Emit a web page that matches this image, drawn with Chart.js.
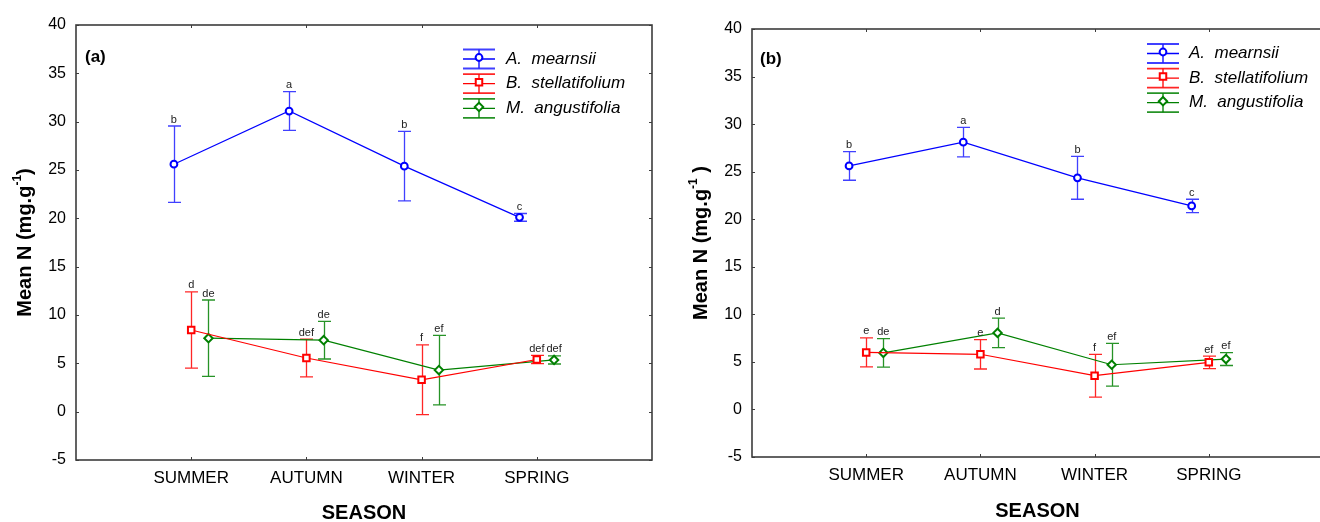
<!DOCTYPE html>
<html>
<head>
<meta charset="utf-8">
<script src="https://cdn.jsdelivr.net/npm/chart.js@4.4.1/dist/chart.umd.min.js"></script>
<style>
  html, body { margin: 0; padding: 0; background: #fff; overflow: hidden; }
  #wrap { position: relative; width: 1320px; height: 522px; overflow: hidden; }
  #panelA { position: absolute; left: 0; top: 0; }
  #panelB { position: absolute; left: 660px; top: 0; }
</style>
</head>
<body>
<div id="wrap">
  <canvas id="panelA" width="660" height="522"></canvas>
  <canvas id="panelB" width="670" height="522"></canvas>
</div>
<script>
// categories and series names
const seasons = ['SUMMER', 'AUTUMN', 'WINTER', 'SPRING'];
const species = ['A. mearnsii', 'B. stellatifolium', 'M. angustifolia'];
const yMin = -5, yMax = 40, yStep = 5;

// panel (a): means, error bar half-widths, group letters
const meanA_mearnsii = [25.6, 31.1, 25.4, 20.1];
const meanA_stellat  = [8.45, 5.55, 3.3, 5.4];
const meanA_angust   = [7.6, 7.4, 4.3, 5.35];
const errA_mearnsii = [3.95, 2.0, 3.6, 0.4];
const errA_stellat  = [3.95, 1.95, 3.6, 0.43];
const errA_angust   = [3.95, 1.95, 3.6, 0.42];
const letA_mearnsii = ['b', 'a', 'b', 'c'];
const letA_stellat  = ['d', 'def', 'f', 'def'];
const letA_angust   = ['de', 'de', 'ef', 'def'];

// panel (b)
const meanB_mearnsii = [25.6, 28.1, 24.35, 21.4];
const meanB_stellat  = [6.0, 5.8, 3.55, 4.95];
const meanB_angust   = [5.95, 8.05, 4.7, 5.3];
const errB_mearnsii = [1.5, 1.55, 2.25, 0.7];
const errB_stellat  = [1.52, 1.55, 2.25, 0.65];
const errB_angust   = [1.5, 1.56, 2.25, 0.68];
const letB_mearnsii = ['b', 'a', 'b', 'c'];
const letB_stellat  = ['e', 'e', 'f', 'ef'];
const letB_angust   = ['de', 'd', 'ef', 'ef'];

const FONT = '"Liberation Sans", Arial, Helvetica, sans-serif';
Chart.defaults.font.family = FONT;
Chart.defaults.color = '#000';

// per-species look; markers are shifted sideways so bars don't overlap
const styles = [
  { color: '#0000ff', bar: 'rgba(30,30,255,0.85)', point: 'circle', radius: 3.4, offset: -0.15 },
  { color: '#ff0000', bar: 'rgba(255,0,0,0.85)',   point: 'rect',   radius: 4.6, offset: 0 },
  { color: '#008000', bar: 'rgba(0,128,0,0.85)',   point: 'rectRot', radius: 4.2, offset: 0.15 }
];

function drawMarker(ctx, style, x, y) {
  ctx.save();
  ctx.fillStyle = '#fff';
  ctx.strokeStyle = style.color;
  ctx.lineWidth = 2;
  ctx.beginPath();
  if (style.point === 'circle') {
    ctx.arc(x, y, style.radius, 0, Math.PI * 2);
  } else if (style.point === 'rect') {
    const s = style.radius * Math.SQRT1_2;
    ctx.rect(x - s, y - s, 2 * s, 2 * s);
  } else {
    const r = style.radius;
    ctx.moveTo(x, y - r); ctx.lineTo(x + r, y); ctx.lineTo(x, y + r); ctx.lineTo(x - r, y); ctx.closePath();
  }
  ctx.fill();
  ctx.stroke();
  ctx.restore();
}

function decorPlugin(cfg) {
  return {
    id: 'decor' + cfg.label,
    beforeDatasetsDraw(chart) {
      const ctx = chart.ctx, xs = chart.scales.x, ys = chart.scales.y;
      ctx.save();
      ctx.lineWidth = 1.3;
      cfg.means.forEach((means, s) => {
        ctx.strokeStyle = styles[s].bar;
        means.forEach((m, i) => {
          const x = Math.round(xs.getPixelForValue(i + 1 + styles[s].offset)) + 0.5;
          const yt = ys.getPixelForValue(m + cfg.errs[s][i]);
          const yb = ys.getPixelForValue(m - cfg.errs[s][i]);
          ctx.beginPath();
          ctx.moveTo(x, yt); ctx.lineTo(x, yb);
          ctx.moveTo(x - 6.5, yt); ctx.lineTo(x + 6.5, yt);
          ctx.moveTo(x - 6.5, yb); ctx.lineTo(x + 6.5, yb);
          ctx.stroke();
        });
      });
      ctx.restore();
    },
    afterDraw(chart) {
      const ctx = chart.ctx, xs = chart.scales.x, ys = chart.scales.y;
      const a = chart.chartArea;
      ctx.save();

      // frame with small inward ticks
      ctx.strokeStyle = '#3c3c3c';
      ctx.lineWidth = 1.6;
      ctx.strokeRect(a.left, a.top, a.right - a.left, a.bottom - a.top);
      ctx.lineWidth = 1;
      ctx.beginPath();
      ys.ticks.forEach(t => {
        const y = Math.round(ys.getPixelForValue(t.value)) + 0.5;
        ctx.moveTo(a.left, y); ctx.lineTo(a.left + 3, y);
        ctx.moveTo(a.right, y); ctx.lineTo(a.right - 3, y);
      });
      xs.ticks.forEach(t => {
        const x = Math.round(xs.getPixelForValue(t.value)) + 0.5;
        ctx.moveTo(x, a.top); ctx.lineTo(x, a.top + 3);
        ctx.moveTo(x, a.bottom); ctx.lineTo(x, a.bottom - 3);
      });
      ctx.stroke();

      // group letters above each error bar
      ctx.fillStyle = '#222';
      ctx.font = '11px ' + FONT;
      ctx.textAlign = 'center';
      ctx.textBaseline = 'bottom';
      cfg.letters.forEach((lets, s) => {
        lets.forEach((txt, i) => {
          const x = xs.getPixelForValue(i + 1 + styles[s].offset);
          const y = ys.getPixelForValue(cfg.means[s][i] + cfg.errs[s][i]);
          ctx.fillText(txt, x, y - 1);
        });
      });

      // panel tag
      ctx.fillStyle = '#000';
      ctx.font = 'bold 17px ' + FONT;
      ctx.textAlign = 'left';
      ctx.textBaseline = 'middle';
      ctx.fillText(cfg.tag, cfg.tagX, cfg.tagY);

      // legend: error-bar glyph + marker + italic name
      const L = cfg.legend;
      species.forEach((name, s) => {
        const st = styles[s];
        const yc = L.y + s * L.gap;
        ctx.strokeStyle = st.color;
        ctx.lineWidth = 1.3;
        ctx.beginPath();
        ctx.moveTo(L.x - 16, yc); ctx.lineTo(L.x + 16, yc);
        ctx.moveTo(L.x, yc - 9.5); ctx.lineTo(L.x, yc + 9.5);
        ctx.stroke();
        ctx.strokeStyle = st.bar;
        ctx.lineWidth = 1.8;
        ctx.beginPath();
        ctx.moveTo(L.x - 16, yc - 9.5); ctx.lineTo(L.x + 16, yc - 9.5);
        ctx.moveTo(L.x - 16, yc + 9.5); ctx.lineTo(L.x + 16, yc + 9.5);
        ctx.stroke();
        drawMarker(ctx, st, L.x, yc - 1.5);
        ctx.fillStyle = '#000';
        ctx.font = 'italic 17px ' + FONT;
        ctx.textBaseline = 'middle';
        ctx.fillText(name.replace('. ', '.  '), L.textX, yc);
      });

      // x axis title
      ctx.font = 'bold 20px ' + FONT;
      ctx.textAlign = 'center';
      ctx.fillText('SEASON', (a.left + a.right) / 2, cfg.xTitleY);

      // y axis title with superscript
      ctx.translate(cfg.yTitleX, (a.top + a.bottom) / 2);
      ctx.rotate(-Math.PI / 2);
      const main = 'Mean N (mg.g', sup = '-1', tail = cfg.yTail;
      ctx.font = 'bold 20px ' + FONT;
      const w1 = ctx.measureText(main).width, w3 = ctx.measureText(tail).width;
      ctx.font = 'bold 12px ' + FONT;
      const w2 = ctx.measureText(sup).width;
      let x0 = -(w1 + w2 + w3) / 2;
      ctx.textAlign = 'left';
      ctx.font = 'bold 20px ' + FONT;
      ctx.fillText(main, x0, 0);
      ctx.font = 'bold 12px ' + FONT;
      ctx.fillText(sup, x0 + w1, -7);
      ctx.font = 'bold 20px ' + FONT;
      ctx.fillText(tail, x0 + w1 + w2, 0);

      ctx.restore();
    }
  };
}

function makePanel(id, cfg) {
  const datasets = cfg.means.map((means, s) => ({
    label: species[s],
    data: means.map((m, i) => ({ x: i + 1 + styles[s].offset, y: m })),
    showLine: true,
    borderColor: styles[s].color,
    borderWidth: 1.2,
    pointStyle: styles[s].point,
    pointRadius: styles[s].radius,
    pointBorderWidth: 2,
    pointBackgroundColor: '#fff',
    pointBorderColor: styles[s].color
  }));

  return new Chart(document.getElementById(id), {
    type: 'scatter',
    data: { datasets },
    options: {
      responsive: false,
      animation: false,
      events: [],
      layout: { padding: { top: cfg.top, right: cfg.right, left: 0, bottom: 0 } },
      plugins: { legend: { display: false }, tooltip: { enabled: false } },
      scales: {
        x: {
          type: 'linear',
          min: 0,
          max: seasons.length + 1,
          grid: { display: false, drawTicks: false },
          border: { display: false },
          afterBuildTicks: sc => { sc.ticks = seasons.map((_, i) => ({ value: i + 1 })); },
          afterFit: sc => { sc.height = cfg.bottom; },
          ticks: {
            autoSkip: false,
            maxRotation: 0,
            padding: 8,
            font: { size: 17 },
            color: '#000',
            callback: v => seasons[v - 1] || ''
          }
        },
        y: {
          min: yMin,
          max: yMax,
          grid: { display: false, drawTicks: false },
          border: { display: false },
          afterFit: sc => { sc.width = cfg.left; },
          ticks: { stepSize: yStep, padding: 10, font: { size: 16 }, color: '#000' }
        }
      }
    },
    plugins: [decorPlugin(cfg)]
  });
}

makePanel('panelA', {
  label: 'A', tag: '(a)', tagX: 85, tagY: 57,
  top: 25, right: 8, left: 76, bottom: 62,
  xTitleY: 513, yTitleX: 25, yTail: ')',
  legend: { x: 479, y: 59, gap: 24.7, textX: 506 },
  means: [meanA_mearnsii, meanA_stellat, meanA_angust],
  errs: [errA_mearnsii, errA_stellat, errA_angust],
  letters: [letA_mearnsii, letA_stellat, letA_angust]
});

makePanel('panelB', {
  label: 'B', tag: '(b)', tagX: 100, tagY: 59,
  top: 29, right: 7, left: 92, bottom: 65,
  xTitleY: 511, yTitleX: 41, yTail: ' )',
  legend: { x: 503, y: 53.5, gap: 24.6, textX: 529 },
  means: [meanB_mearnsii, meanB_stellat, meanB_angust],
  errs: [errB_mearnsii, errB_stellat, errB_angust],
  letters: [letB_mearnsii, letB_stellat, letB_angust]
});
</script>
</body>
</html>
